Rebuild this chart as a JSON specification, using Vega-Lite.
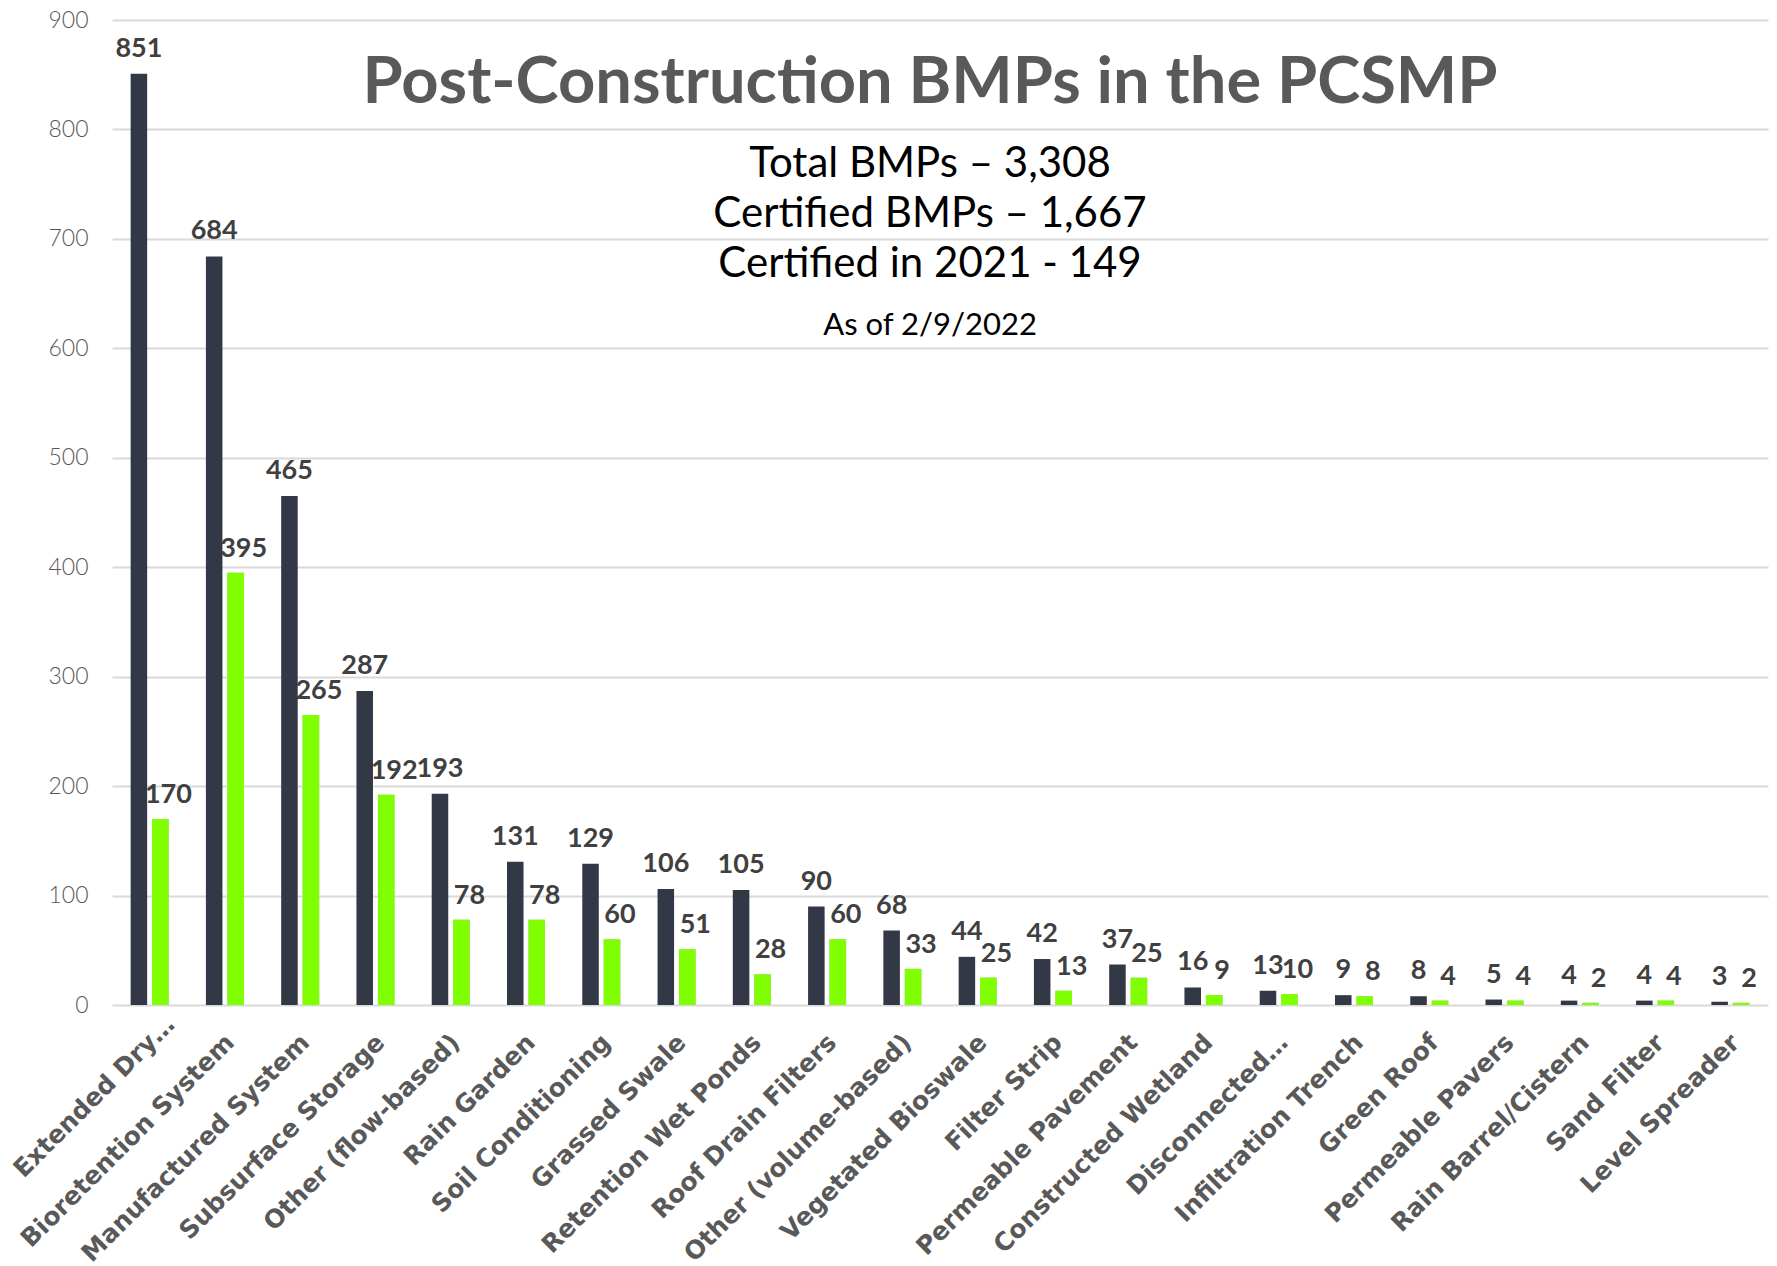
{
  "$schema": "https://vega.github.io/schema/vega-lite/v6.json",
  "width": 1656,
  "height": 985,
  "autosize": {"type": "none"},
  "padding": {"left": 112, "top": 20, "right": 9, "bottom": 261},
  "background": "white",
  "title": {
    "text": "Post-Construction BMPs in the PCSMP",
    "subtitle": ["Total BMPs – 3,308", "Certified BMPs – 1,667", "Certified in 2021 - 149"],
    "anchor": "middle",
    "frame": "group",
    "orient": "top",
    "offset": -277,
    "dx": -10,
    "baseline": "top",
    "font": "Lato",
    "fontSize": 65,
    "fontWeight": "bold",
    "color": "#595959",
    "subtitleFont": "Lato",
    "subtitleFontSize": 42,
    "subtitleFontWeight": "normal",
    "subtitleColor": "#000000",
    "subtitleLineHeight": 50,
    "subtitlePadding": 27
  },
  "config": {
    "view": {"stroke": null},
    "axis": {"gridColor": "#d9d9d9", "gridWidth": 2}
  },
  "data": {
    "values": [
      {"bmp": "Extended Dry…", "series": "Total", "count": 851},
      {"bmp": "Bioretention System", "series": "Total", "count": 684},
      {"bmp": "Manufactured System", "series": "Total", "count": 465},
      {"bmp": "Subsurface Storage", "series": "Total", "count": 287},
      {"bmp": "Other (flow-based)", "series": "Total", "count": 193},
      {"bmp": "Rain Garden", "series": "Total", "count": 131},
      {"bmp": "Soil Conditioning", "series": "Total", "count": 129},
      {"bmp": "Grassed Swale", "series": "Total", "count": 106},
      {"bmp": "Retention Wet Ponds", "series": "Total", "count": 105},
      {"bmp": "Roof Drain Filters", "series": "Total", "count": 90},
      {"bmp": "Other (volume-based)", "series": "Total", "count": 68},
      {"bmp": "Vegetated Bioswale", "series": "Total", "count": 44},
      {"bmp": "Filter Strip", "series": "Total", "count": 42},
      {"bmp": "Permeable Pavement", "series": "Total", "count": 37},
      {"bmp": "Constructed Wetland", "series": "Total", "count": 16},
      {"bmp": "Disconnected…", "series": "Total", "count": 13},
      {"bmp": "Infiltration Trench", "series": "Total", "count": 9},
      {"bmp": "Green Roof", "series": "Total", "count": 8},
      {"bmp": "Permeable Pavers", "series": "Total", "count": 5},
      {"bmp": "Rain Barrel/Cistern", "series": "Total", "count": 4},
      {"bmp": "Sand Filter", "series": "Total", "count": 4},
      {"bmp": "Level Spreader", "series": "Total", "count": 3},
      {"bmp": "Extended Dry…", "series": "Certified", "count": 170},
      {"bmp": "Bioretention System", "series": "Certified", "count": 395},
      {"bmp": "Manufactured System", "series": "Certified", "count": 265},
      {"bmp": "Subsurface Storage", "series": "Certified", "count": 192},
      {"bmp": "Other (flow-based)", "series": "Certified", "count": 78},
      {"bmp": "Rain Garden", "series": "Certified", "count": 78},
      {"bmp": "Soil Conditioning", "series": "Certified", "count": 60},
      {"bmp": "Grassed Swale", "series": "Certified", "count": 51},
      {"bmp": "Retention Wet Ponds", "series": "Certified", "count": 28},
      {"bmp": "Roof Drain Filters", "series": "Certified", "count": 60},
      {"bmp": "Other (volume-based)", "series": "Certified", "count": 33},
      {"bmp": "Vegetated Bioswale", "series": "Certified", "count": 25},
      {"bmp": "Filter Strip", "series": "Certified", "count": 13},
      {"bmp": "Permeable Pavement", "series": "Certified", "count": 25},
      {"bmp": "Constructed Wetland", "series": "Certified", "count": 9},
      {"bmp": "Disconnected…", "series": "Certified", "count": 10},
      {"bmp": "Infiltration Trench", "series": "Certified", "count": 8},
      {"bmp": "Green Roof", "series": "Certified", "count": 4},
      {"bmp": "Permeable Pavers", "series": "Certified", "count": 4},
      {"bmp": "Rain Barrel/Cistern", "series": "Certified", "count": 2},
      {"bmp": "Sand Filter", "series": "Certified", "count": 4},
      {"bmp": "Level Spreader", "series": "Certified", "count": 2}
    ]
  },
  "layer": [
    {
      "encoding": {
        "x": {
          "field": "bmp",
          "type": "nominal",
          "sort": null,
          "scale": {"paddingInner": 0.495, "paddingOuter": 0.2475},
          "axis": {
            "title": null,
            "domain": false,
            "ticks": false,
            "labelAngle": -45,
            "labelAlign": "right",
            "labelBaseline": "middle",
            "labelPadding": {"condition": {"test": "datum.label === 'Extended Dry…'", "value": 15}, "value": 33},
            "labelOffset": {"condition": {"test": "datum.label === 'Extended Dry…'", "value": 21}, "value": 5},
            "labelLimit": 1000,
            "labelFont": "DejaVu Sans",
            "labelFontSize": 25,
            "labelFontWeight": "bold",
            "labelColor": "#595959"
          }
        },
        "xOffset": {
          "field": "series",
          "type": "nominal",
          "scale": {"domain": ["Total", "Certified"], "paddingInner": 0.23}
        },
        "y": {
          "field": "count",
          "type": "quantitative",
          "scale": {"domain": [0, 900], "nice": false},
          "axis": {
            "title": null,
            "domain": false,
            "ticks": false,
            "values": [0, 100, 200, 300, 400, 500, 600, 700, 800, 900],
            "labelPadding": 24,
            "labelFont": "Lato",
            "labelFontSize": 23,
            "labelFontWeight": 300,
            "labelColor": "#595959"
          }
        }
      },
      "layer": [
        {
          "transform": [{"filter": "datum.series === 'Total'"}],
          "mark": {"type": "text", "baseline": "alphabetic", "dy": -17, "font": "Lato", "fontSize": 27, "fontWeight": "bold", "color": "#404040"},
          "encoding": {"text": {"field": "count", "type": "quantitative"}}
        },
        {
          "transform": [{"filter": "datum.series === 'Certified'"}],
          "mark": {"type": "text", "baseline": "alphabetic", "dy": -16, "dx": 8, "font": "Lato", "fontSize": 27, "fontWeight": "bold", "color": "#404040"},
          "encoding": {"text": {"field": "count", "type": "quantitative"}}
        },
        {
          "transform": [{"filter": "datum.series === 'Certified'"}],
          "mark": {"type": "bar", "color": "#e8e8e8", "xOffset": 9},
          "encoding": {}
        },
        {
          "transform": [{"filter": "datum.series === 'Certified'"}],
          "mark": {"type": "bar", "color": "#bababa", "xOffset": 5},
          "encoding": {}
        },
        {
          "mark": {"type": "bar"},
          "encoding": {
            "color": {
              "field": "series",
              "type": "nominal",
              "scale": {"domain": ["Total", "Certified"], "range": ["#323845", "#7fff00"]},
              "legend": null
            }
          }
        }
      ]
    },
    {
      "data": {"values": [{"note": "As of 2/9/2022"}]},
      "mark": {"type": "text", "baseline": "middle", "align": "center", "dx": -10, "font": "Lato", "fontSize": 31, "color": "#000000"},
      "encoding": {
        "y": {"datum": 620, "type": "quantitative"},
        "text": {"field": "note", "type": "nominal"}
      }
    }
  ]
}
